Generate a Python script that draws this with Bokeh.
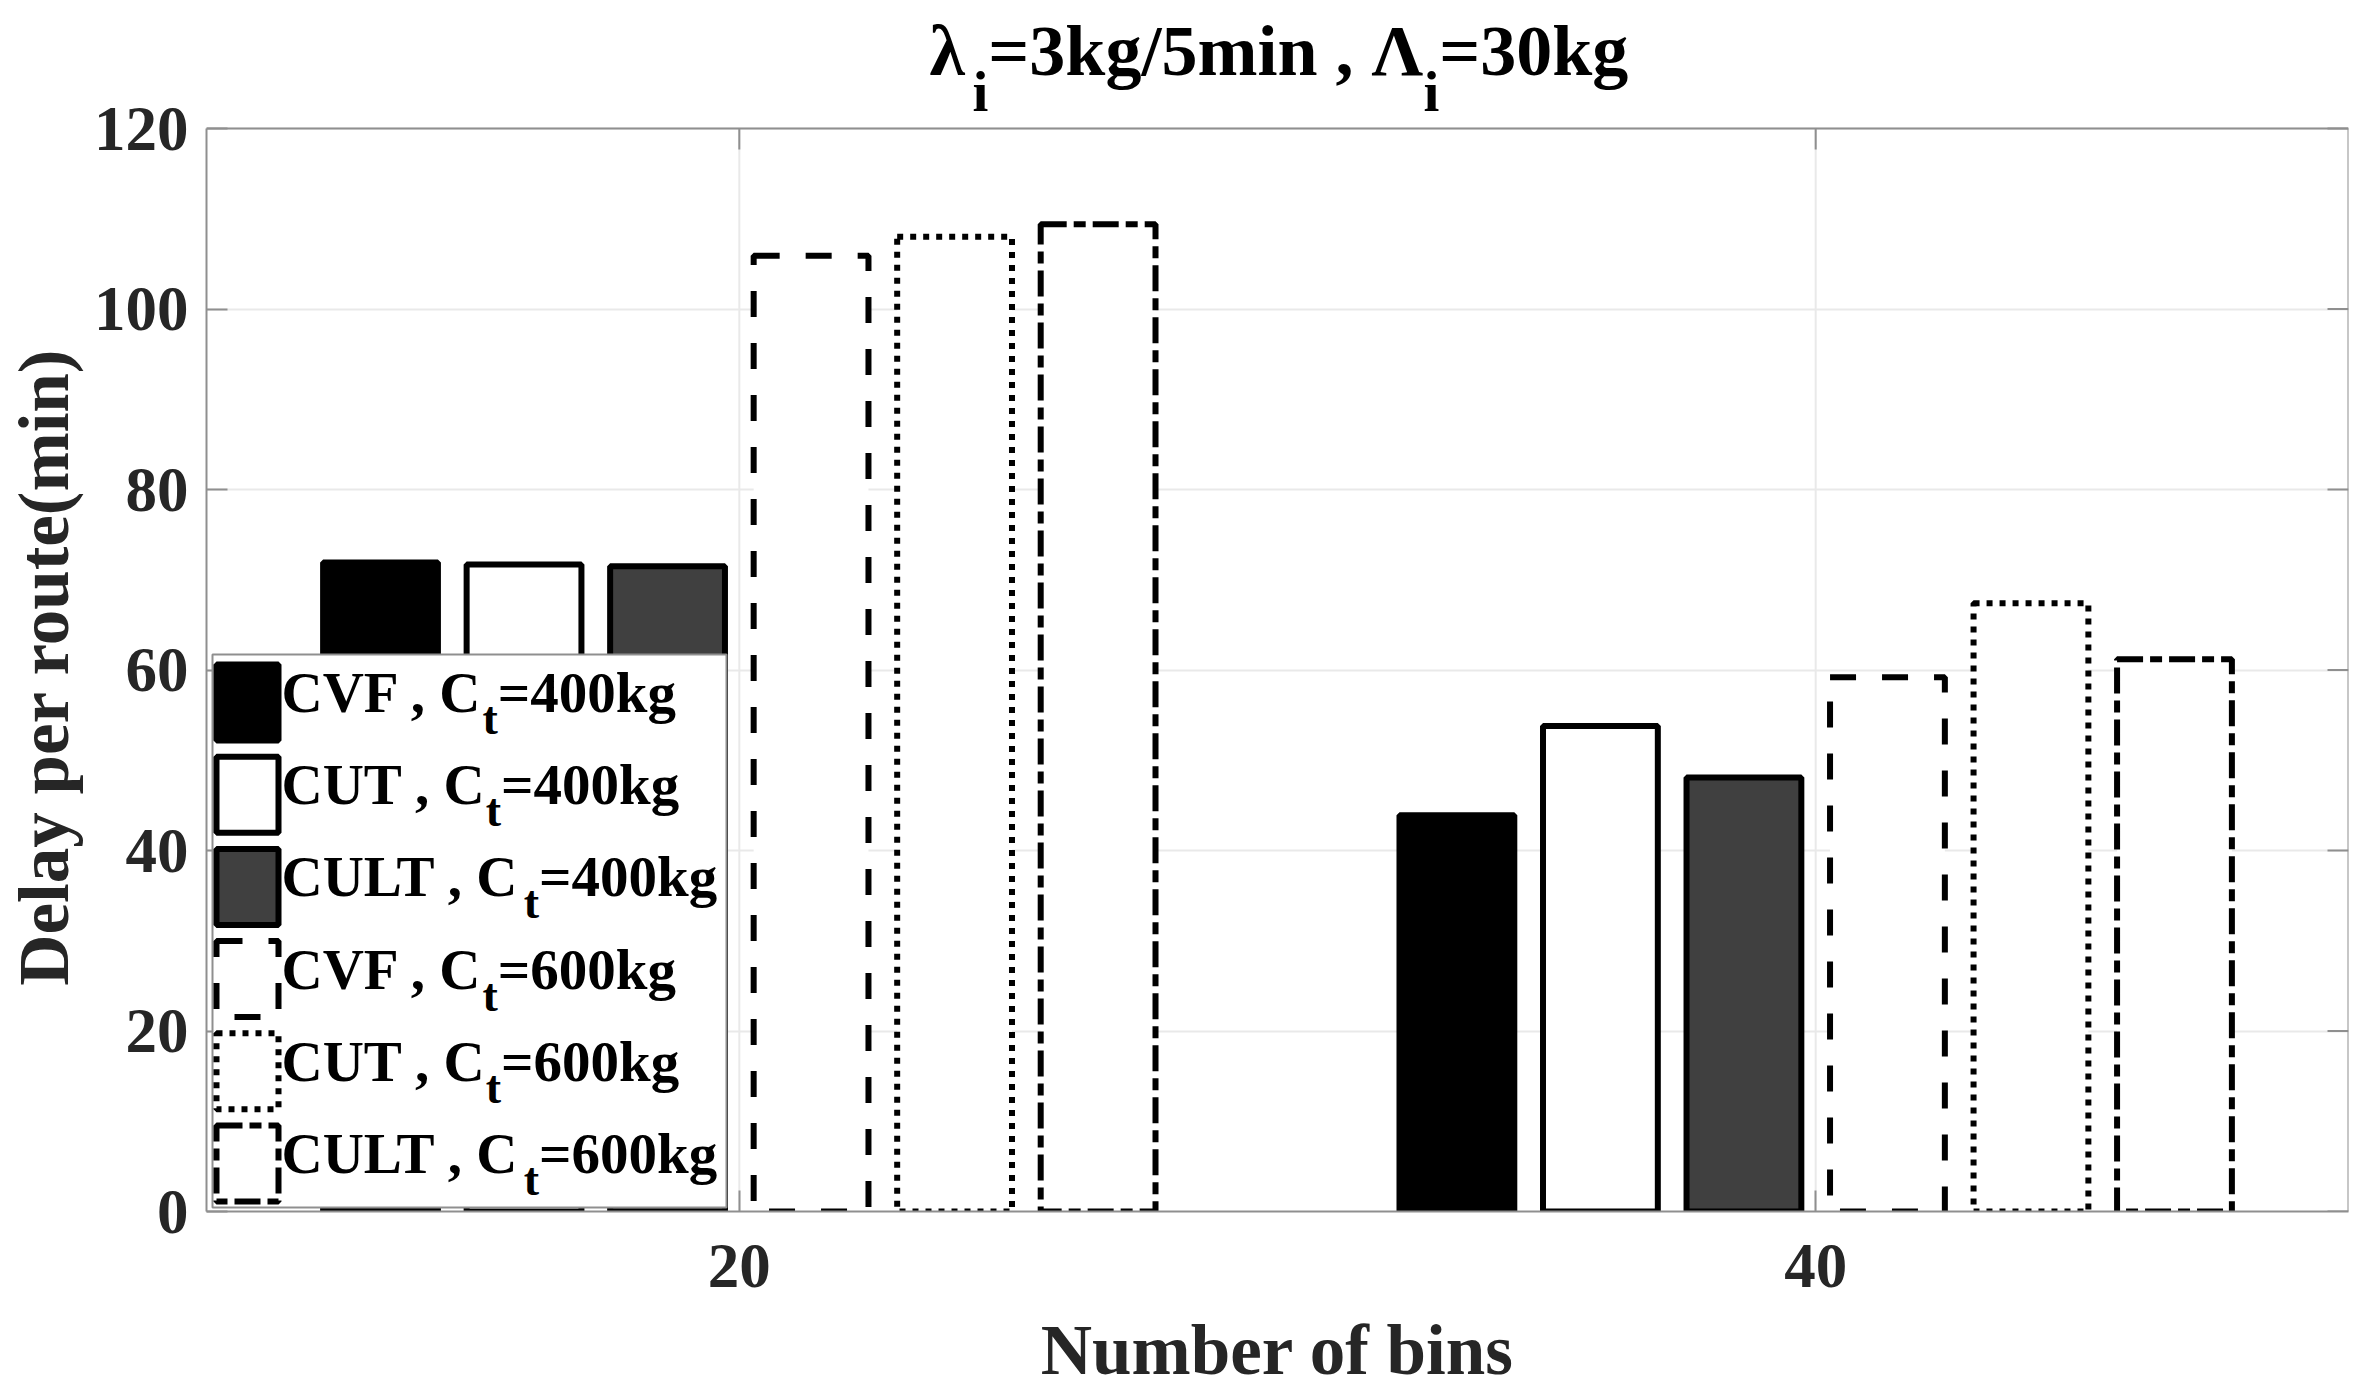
import math
from bokeh.plotting import figure
from bokeh.layouts import row
from bokeh.models import Label, BoxAnnotation, FixedTicker, Range1d
from bokeh.core.properties import value
from bokeh.embed import file_html
from bokeh.resources import INLINE

# ---------------- data ----------------
bins = [20, 40]
series_names = ["CVF", "CUT", "CULT", "CVF", "CUT", "CULT"]
series_caps = ["400kg", "400kg", "400kg", "600kg", "600kg", "600kg"]
cvf_400 = [71.9, 43.9]
cut_400 = [71.7, 53.8]
cult_400 = [71.5, 48.1]
cvf_600 = [105.9, 59.2]
cut_600 = [108.0, 67.4]
cult_600 = [109.4, 61.2]
series_values = [cvf_400, cut_400, cult_400, cvf_600, cut_600, cult_600]
y_ticks = [0, 20, 40, 60, 80, 100, 120]
title_parts = [("λ", False), ("i", True), ("=3kg/5min , Λ", False), ("i", True), ("=30kg", False)]
x_label = "Number of bins"
y_label = "Delay per route(min)"

# ---------------- styles ----------------
FONT = "Liberation Serif"
LW = 6
GRAY = "#8f8f8f"
GRID = "#e9e9e9"
TXT = "#262626"
styles = [
    dict(fill_color="#000000", line_dash="solid"),
    dict(fill_color="#ffffff", line_dash="solid"),
    dict(fill_color="#404040", line_dash="solid"),
    dict(fill_color="#ffffff", line_dash="26 26"),
    dict(fill_color="#ffffff", line_dash="6 7"),
    dict(fill_color="#ffffff", line_dash="26 7 12 7"),
]

# Times-bold like advance widths (per 1000 em) for placing sub-scripts
W = {'C': 722, 'V': 722, 'F': 611, 'U': 722, 'L': 667, 'T': 667, ' ': 250, ',': 250,
     '=': 570, 'k': 556, 'g': 500, 'm': 833, 'i': 278, 'n': 556, '/': 278, 't': 333,
     'λ': 597, 'Λ': 722}
for d in "0123456789":
    W[d] = 500


def tw(s, size):
    return sum(W.get(c, 500) for c in s) / 1000.0 * size


# geometry (page pixels)
AX_L, AX_R, AX_T, AX_B = 205, 2347, 128, 1211   # the axes box
TOTAL_W, TOTAL_H = 2362, 1378
LABEL_W = 90                                     # strip holding the y-axis title
X0, X1 = 10.1, 49.9
Y0, Y1 = 0, 120
PX_PER_Y = (AX_B - AX_T) / (Y1 - Y0)
PX_PER_X = (AX_R - AX_L) / (X1 - X0)
Y_TOP = Y0 + AX_B / PX_PER_Y          # frame reaches the top of the page (room for the title)
BASE_SHIFT = 0.386  # em; renderer places the alphabetic baseline this much lower


def xd(px):
    return X0 + (px - AX_L) / PX_PER_X


def yd(py):
    return Y0 + (AX_B - py) / PX_PER_Y


# ---------------- y-axis title strip ----------------
s = figure(frame_width=LABEL_W, frame_height=AX_B, title=None,
           min_border_left=0, min_border_right=0, min_border_top=0,
           min_border_bottom=TOTAL_H - AX_B,
           x_range=Range1d(0, LABEL_W), y_range=Range1d(AX_B, 0),
           x_axis_location=None, y_axis_location=None,
           output_backend="svg", toolbar_location=None, tools="")
s.outline_line_color = None
s.grid.visible = False
s.text(x=[71 - BASE_SHIFT * 71], y=[(AX_T + AX_B) / 2.0 - 3], text=[y_label],
       angle=math.pi / 2, text_font=value(FONT), text_font_style="bold",
       text_font_size="71px", text_color=TXT, text_align="center",
       text_baseline="alphabetic")

# ---------------- main figure ----------------
p = figure(frame_width=AX_R - AX_L, frame_height=AX_B,
           min_border_left=AX_L - LABEL_W, min_border_right=TOTAL_W - AX_R,
           min_border_top=0, min_border_bottom=TOTAL_H - AX_B,
           x_range=Range1d(X0, X1), y_range=Range1d(Y0, Y_TOP),
           output_backend="svg", toolbar_location=None, tools="",
           background_fill_color="white", border_fill_color="white")
p.outline_line_color = None
p.xgrid.visible = False
p.ygrid.ticker = FixedTicker(ticks=y_ticks)
p.ygrid.grid_line_color = GRID
p.ygrid.grid_line_width = 2

# vertical grid lines limited to the axes box
p.segment(x0=bins, x1=bins, y0=[Y0] * len(bins), y1=[Y1] * len(bins),
          line_color=GRID, line_width=2)

# bars (MATLAB grouped layout)
n = len(series_values)
group_width = min(0.8, n / (n + 1.5)) * (bins[1] - bins[0])
slot = group_width / n
bar_w = slot * 0.8
for k, (vals, st) in enumerate(zip(series_values, styles)):
    xs = [b + (k - (n - 1) / 2.0) * slot for b in bins]
    p.vbar(x=xs, top=vals, bottom=0, width=bar_w,
           fill_color=st["fill_color"], line_color="#000000", line_width=LW,
           line_dash=st["line_dash"])

# box: top and right edges, inward ticks on them
p.segment(x0=[X0, X1], x1=[X1, X1], y0=[Y1, Y0], y1=[Y1, Y1], line_color=GRAY, line_width=2)
dx = 21 / PX_PER_X
dy = 21 / PX_PER_Y
p.segment(x0=[X1 - dx] * len(y_ticks), x1=[X1] * len(y_ticks), y0=y_ticks, y1=y_ticks,
          line_color=GRAY, line_width=2)
p.segment(x0=bins, x1=bins, y0=[Y1 - dy] * len(bins), y1=[Y1] * len(bins),
          line_color=GRAY, line_width=2)

# axes
for ax in (p.xaxis[0], p.yaxis[0]):
    ax.major_tick_in = 21
    ax.major_tick_out = 0
    ax.minor_tick_line_color = None
    ax.major_tick_line_color = GRAY
    ax.major_tick_line_width = 2
    ax.axis_line_color = GRAY
    ax.axis_line_width = 2
    ax.major_label_text_font = FONT
    ax.major_label_text_font_style = "bold"
    ax.major_label_text_font_size = "63px"
    ax.major_label_text_color = TXT
    ax.axis_label_text_font = FONT
    ax.axis_label_text_font_style = "bold"
    ax.axis_label_text_font_size = "71px"
    ax.axis_label_text_color = TXT
p.xaxis[0].ticker = FixedTicker(ticks=bins)
p.yaxis[0].ticker = FixedTicker(ticks=y_ticks)
p.yaxis[0].bounds = (Y0, Y1)
p.xaxis[0].major_label_standoff = 33
p.yaxis[0].major_label_standoff = 18
p.xaxis[0].axis_label = x_label
p.xaxis[0].axis_label_standoff = 21

# title with subscripts (drawn inside the tall frame, above the axes box)
x = 928.0
for txt, sub in title_parts:
    size = 57 if sub else 72
    base = 113 if sub else 78
    p.text(x=[xd(x)], y=[yd(base - BASE_SHIFT * size)], text=[txt], text_font=value(FONT),
           text_font_style="bold", text_font_size=f"{size}px", text_color="#000000",
           text_align="left", text_baseline="alphabetic")
    x += tw(txt, size)

# custom legend (lower-left inside the axes), canvas coordinates of the main figure
OX = LABEL_W


def box(l, r, tp, b, **kw):
    return BoxAnnotation(left=l - OX, right=r - OX, top=tp, bottom=b,
                         left_units="canvas", right_units="canvas",
                         top_units="canvas", bottom_units="canvas", **kw)


p.add_layout(box(212, 726, 654, 1207, fill_color="white", fill_alpha=1.0,
                 line_color=GRAY, line_alpha=1.0, line_width=2))
ROW = 92.2
for i, (name, cap, st) in enumerate(zip(series_names, series_caps, styles)):
    top = 664 + ROW * i
    p.add_layout(box(216, 278, top, top + 76, fill_color=st["fill_color"], fill_alpha=1.0,
                     line_color="#000000", line_alpha=1.0, line_width=LW,
                     line_dash=st["line_dash"]))
    base = 692 + ROW * i
    parts = [(name + " , C", False), ("t", True), ("=" + cap, False)]
    x = 281.0
    for txt, sub in parts:
        size = 46 if sub else 57
        p.add_layout(Label(x=x - OX, y=base + (26 if sub else 0), x_units="canvas",
                           y_units="canvas", text=txt, text_font=FONT, text_font_style="bold",
                           text_font_size=f"{size}px", text_color="#000000",
                           text_align="left", text_baseline="alphabetic"))
        x += tw(txt, size)

layout = row(s, p, spacing=0)
open("out.html", "w").write(file_html(layout, INLINE))
